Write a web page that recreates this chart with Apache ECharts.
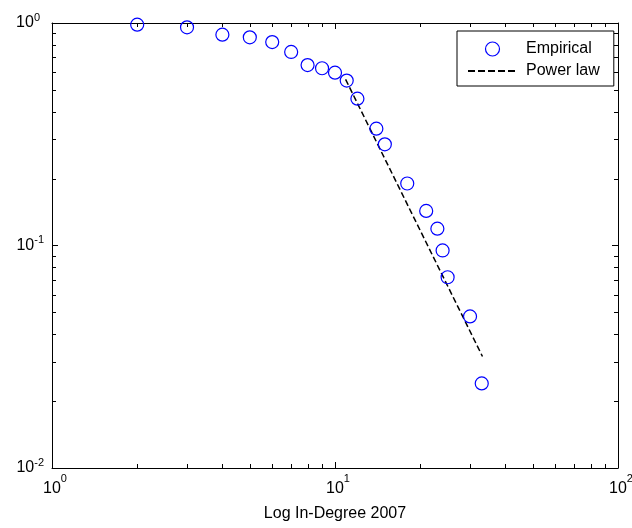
<!DOCTYPE html>
<html>
<head>
<meta charset="utf-8">
<script src="https://cdn.jsdelivr.net/npm/echarts@6/dist/echarts.min.js"></script>
<style>
html,body{margin:0;padding:0;background:#fff;}
#chart{width:632px;height:528px;}
</style>
</head>
<body>
<div id="chart"></div>
<script>
// ---- data ----
const empiricalX = [2, 3, 4, 5, 6, 7, 8, 9, 10, 11, 12, 14, 15, 18, 21, 23, 24, 25, 30, 33];
const empiricalY = [0.983, 0.956, 0.886, 0.862, 0.821, 0.741, 0.647, 0.626, 0.598, 0.551, 0.457, 0.335, 0.285, 0.190, 0.143, 0.119, 0.095, 0.072, 0.048, 0.024];
const powerLawX = [10.9, 33.2];
const powerLawY = [0.558, 0.0317];
const xRange = [1, 100];
const yRange = [0.01, 1];
const xMinorTicks = [2, 3, 4, 5, 6, 7, 8, 9, 20, 30, 40, 50, 60, 70, 80, 90];
const yMinorTicks = [0.02, 0.03, 0.04, 0.05, 0.06, 0.07, 0.08, 0.09, 0.2, 0.3, 0.4, 0.5, 0.6, 0.7, 0.8, 0.9];
const xAxisTitle = 'Log In-Degree 2007';
const seriesNames = ['Empirical', 'Power law'];

const FONT = '"Liberation Sans", Arial, sans-serif';
const BLUE = '#0000ff';
const chart = echarts.init(document.getElementById('chart'));

function expOf(v) { return String(Math.round(Math.log10(v))); }

const richX = {
  sp: { width: 6 },
  b: { fontSize: 16, lineHeight: 32, fontFamily: FONT, color: '#000', verticalAlign: 'middle' },
  e: { fontSize: 11, lineHeight: 11, fontFamily: FONT, color: '#000', verticalAlign: 'top' }
};
const richY = {
  b: { fontSize: 16, lineHeight: 22, fontFamily: FONT, color: '#000', verticalAlign: 'middle' },
  e: { fontSize: 11, lineHeight: 11, fontFamily: FONT, color: '#000', verticalAlign: 'top' },
  p1: { width: 4 },
  p2: { width: 0 }
};

const empiricalData = empiricalX.map((x, i) => [x, empiricalY[i]]);
const powerData = powerLawX.map((x, i) => [x, powerLawY[i]]);
const tickData = xMinorTicks.map(v => [v, yRange[0], 0]).concat(yMinorTicks.map(v => [xRange[0], v, 1]));

const axisLineStyle = { show: true, lineStyle: { color: '#000', width: 1 } };
const majorTick = { show: true, inside: true, length: 6, lineStyle: { color: '#000' } };

const option = {
  backgroundColor: '#fff',
  animation: false,
  grid: { left: 52, right: 14, top: 23, bottom: 60, show: false, containLabel: false, outerBoundsMode: 'none' },
  legend: {
    orient: 'vertical',
    left: 457, top: 31,
    padding: [10, 14, 7, 10],
    itemWidth: 49, itemHeight: 14, itemGap: 6,
    backgroundColor: '#fff',
    borderColor: '#000', borderWidth: 1, borderRadius: 0,
    textStyle: { fontFamily: FONT, fontSize: 16, color: '#000', lineHeight: 16, padding: [0, 0, 0, 4] },
    data: [
      { name: seriesNames[0], icon: 'circle', itemStyle: { color: 'transparent', borderColor: BLUE, borderWidth: 1.2 } },
      { name: seriesNames[1],
        itemStyle: { color: 'transparent', borderColor: 'transparent', borderWidth: 0, opacity: 0 },
        lineStyle: { color: '#000', width: 2, type: [7, 3] } }
    ]
  },
  xAxis: [
    {
      type: 'log', logBase: 10, min: xRange[0], max: xRange[1], interval: 1,
      position: 'bottom',
      name: xAxisTitle, nameLocation: 'middle', nameGap: 38,
      nameTextStyle: { fontFamily: FONT, fontSize: 16, color: '#000' },
      axisLine: axisLineStyle,
      axisTick: majorTick,
      splitLine: { show: false },
      axisLabel: {
        show: true, margin: 5, showMinLabel: true, showMaxLabel: true,
        formatter: v => '{sp|}{b|10}{e|' + expOf(v) + '}',
        rich: richX
      }
    },
    {
      type: 'log', logBase: 10, min: xRange[0], max: xRange[1], interval: 1,
      position: 'top',
      axisLine: axisLineStyle,
      axisTick: majorTick,
      splitLine: { show: false },
      axisLabel: { show: false }
    }
  ],
  yAxis: [
    {
      type: 'log', logBase: 10, min: yRange[0], max: yRange[1], interval: 1,
      position: 'left',
      axisLine: axisLineStyle,
      axisTick: majorTick,
      splitLine: { show: false },
      axisLabel: {
        show: true, margin: 8, showMinLabel: true, showMaxLabel: true,
        formatter: v => { const e = expOf(v); return '{b|10}{e|' + e + '}{p' + e.length + '|}'; },
        rich: richY
      }
    },
    {
      type: 'log', logBase: 10, min: yRange[0], max: yRange[1], interval: 1,
      position: 'right',
      axisLine: axisLineStyle,
      axisTick: majorTick,
      splitLine: { show: false },
      axisLabel: { show: false }
    }
  ],
  series: [
    {
      name: 'minorTicks',
      type: 'custom',
      xAxisIndex: 0, yAxisIndex: 0,
      silent: true,
      data: tickData,
      renderItem: function (params, api) {
        const kind = api.value(2);
        const lo = api.coord([xRange[0], yRange[0]]);
        const hi = api.coord([xRange[1], yRange[1]]);
        const L = 4;
        const st = { stroke: '#000', lineWidth: 1 };
        if (kind === 0) {
          const x = Math.round(api.coord([api.value(0), yRange[0]])[0]) + 0.5;
          return { type: 'group', children: [
            { type: 'line', shape: { x1: x, y1: lo[1], x2: x, y2: lo[1] - L }, style: st },
            { type: 'line', shape: { x1: x, y1: hi[1], x2: x, y2: hi[1] + L }, style: st }
          ]};
        } else {
          const y = Math.round(api.coord([xRange[0], api.value(1)])[1]) + 0.5;
          return { type: 'group', children: [
            { type: 'line', shape: { x1: lo[0], y1: y, x2: lo[0] + L, y2: y }, style: st },
            { type: 'line', shape: { x1: hi[0], y1: y, x2: hi[0] - L, y2: y }, style: st }
          ]};
        }
      },
      z: 1
    },
    {
      name: seriesNames[1],
      type: 'line',
      data: powerData,
      showSymbol: false, symbol: 'none',
      lineStyle: { color: '#000', width: 1.5, type: [6, 3] },
      itemStyle: { color: '#000' },
      z: 3
    },
    {
      name: seriesNames[0],
      type: 'scatter',
      data: empiricalData,
      symbol: 'circle', symbolSize: 13,
      itemStyle: { color: 'transparent', borderColor: BLUE, borderWidth: 1.2, opacity: 1 },
      z: 4
    }
  ]
};
chart.setOption(option);
</script>
</body>
</html>
